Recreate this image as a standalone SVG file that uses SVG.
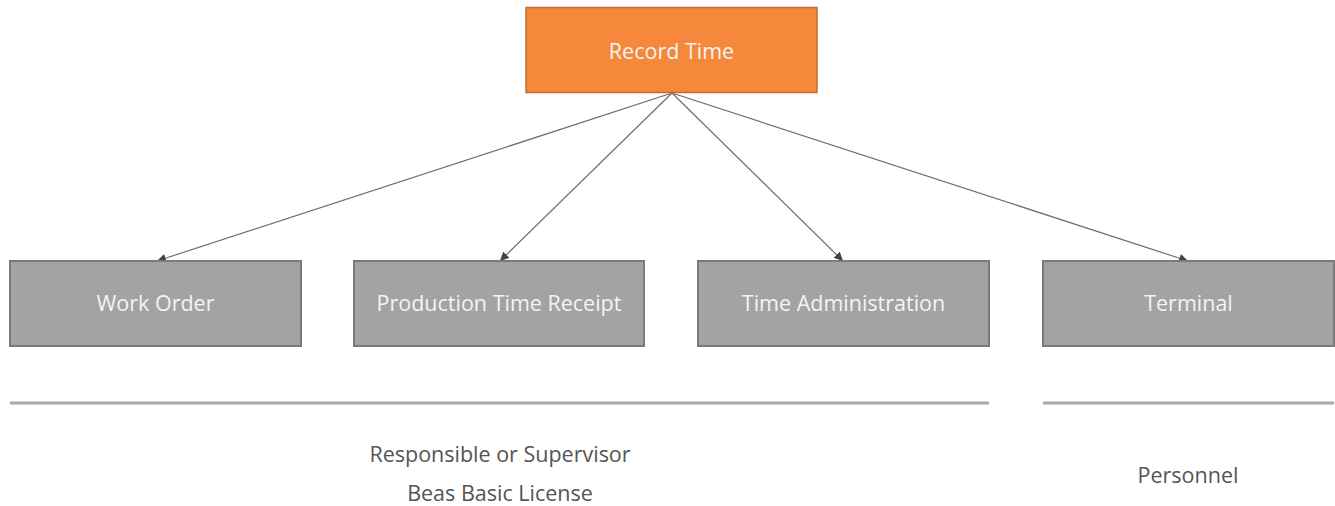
<svg xmlns="http://www.w3.org/2000/svg" width="1335" height="506" viewBox="0 0 1335 506">
  <style>
    .root { fill: #F5883A; stroke: #C2702F; stroke-width: 1.5; }
    .box { fill: #A3A3A3; stroke: #7A7A7A; stroke-width: 2; }
    .lbl { font-family: "Open Sans", "Liberation Sans", sans-serif; font-size: 21.5px; fill: #F4F4F4; text-anchor: middle; dominant-baseline: central; }
    .note { font-family: "Open Sans", "Liberation Sans", sans-serif; font-size: 21.5px; fill: #555555; text-anchor: middle; dominant-baseline: central; }
    .edge { stroke: #6E6E6E; stroke-width: 1.2; fill: none; marker-end: url(#arrow); }
    .rule { stroke: #AAAAAA; stroke-width: 3; }
  </style>
  <defs>
    <marker id="arrow" viewBox="0 0 10 10" refX="10" refY="5" markerWidth="9" markerHeight="9" markerUnits="userSpaceOnUse" orient="auto">
      <path d="M0,0 L10,5 L0,10 z" fill="#444444"/>
    </marker>
  </defs>
  <rect width="1335" height="506" fill="#FFFFFF"/>

  <g id="connectors">
    <line class="edge" x1="672" y1="93" x2="157" y2="261"/>
    <line class="edge" x1="672" y1="93" x2="500" y2="261"/>
    <line class="edge" x1="672" y1="93" x2="843" y2="261"/>
    <line class="edge" x1="672" y1="93" x2="1188" y2="261"/>
  </g>

  <g id="record-time">
    <rect class="root" x="526" y="7.5" width="291" height="85"/>
    <text class="lbl" x="671.5" y="50">Record Time</text>
  </g>
  <g id="work-order">
    <rect class="box" x="10" y="261" width="291" height="85"/>
    <text class="lbl" x="155.5" y="302">Work Order</text>
  </g>
  <g id="production-time-receipt">
    <rect class="box" x="354" y="261" width="290" height="85"/>
    <text class="lbl" x="499" y="302">Production Time Receipt</text>
  </g>
  <g id="time-administration">
    <rect class="box" x="698" y="261" width="291" height="85"/>
    <text class="lbl" x="843.5" y="302">Time Administration</text>
  </g>
  <g id="terminal">
    <rect class="box" x="1043" y="261" width="291" height="85"/>
    <text class="lbl" x="1188.5" y="302">Terminal</text>
  </g>

  <g id="roles">
    <line class="rule" x1="10" y1="403" x2="989" y2="403"/>
    <line class="rule" x1="1043" y1="403" x2="1334" y2="403"/>
    <text class="note" x="500" y="453">Responsible or Supervisor</text>
    <text class="note" x="500" y="492">Beas Basic License</text>
    <text class="note" x="1188" y="474">Personnel</text>
  </g>
</svg>
